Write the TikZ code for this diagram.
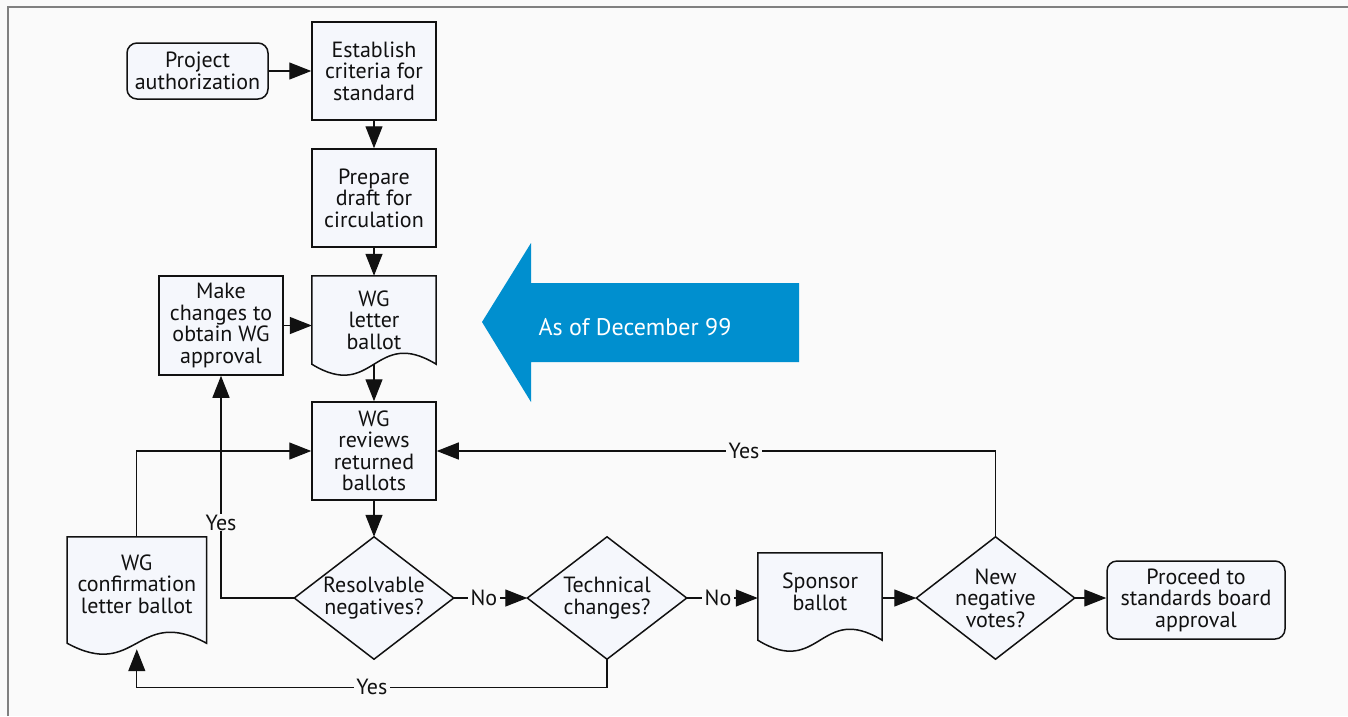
\documentclass[tikz,border=0pt]{standalone}
\usepackage{fontspec}
\setmainfont{PT Sans}
\usetikzlibrary{arrows.meta,calc}
\pgfdeclarelayer{page}
\pgfdeclarelayer{shapes}
\pgfsetlayers{page,shapes,main}
\definecolor{pagebg}{HTML}{FAFAFA}
\definecolor{boxfill}{HTML}{F5F7FC}
\definecolor{frame}{HTML}{808080}
\definecolor{banner}{HTML}{008FCF}
\definecolor{ink}{HTML}{111111}
\tikzset{
  txt/.style={font=\fontsize{22}{21.5}\selectfont, align=center, inner sep=0pt, text=ink},
  box/.style={txt, draw=ink, fill=boxfill, line width=1.5pt, minimum width=124pt, minimum height=98pt},
  rbox/.style={box, rounded corners=10pt},
  conn/.style={draw=ink, line width=1.3pt, -{Triangle[length=22pt,width=17pt]}},
  lbl/.style={txt, fill=pagebg, inner xsep=2.5pt, inner ysep=1pt},
  outline/.style={draw=ink, fill=boxfill, line width=1.5pt},
}
\newcommand{\docpath}[2]{%
  \draw[outline] ($(#1.north west)+(0,#2)$) -- ($(#1.north east)+(0,#2)$) -- ($(#1.south east)+(0,#2)$)
    .. controls ($(#1.south)+(0,#2-38)$) and ($(#1.south)+(0,#2+38)$) .. ($(#1.south west)+(0,#2)$) -- cycle;}
\newcommand{\diapath}[1]{%
  \draw[outline] (#1.north) -- (#1.east) -- (#1.south) -- (#1.west) -- cycle;}
\begin{document}
\begin{tikzpicture}[x=1pt,y=-1pt]
\useasboundingbox (0,0) rectangle (1348,716);
\begin{pgfonlayer}{page}
  \fill[pagebg] (0,0) rectangle (1348,716);
  \draw[frame, line width=2pt] (7.5,716) -- (7.5,6.7) -- (1348,6.7);
\end{pgfonlayer}

% nodes
\node[rbox, minimum width=141pt, minimum height=56pt] (proj) at (197.5,71) {Project\\authorization};
\node[box] (est) at (374,71) {Establish\\criteria for\\standard};
\node[box] (prep) at (374,198) {Prepare\\draft for\\circulation};
\node[txt, minimum width=124pt, minimum height=88pt] (wgl) at (374,320) {WG\\letter\\ballot};
\node[box, minimum height=99pt] (mk) at (221,325.5) {Make\\changes to\\obtain WG\\approval};
\node[box] (rev) at (374,451) {WG\\reviews\\returned\\ballots};
\node[txt, minimum width=159pt, minimum height=122pt] (res) at (374,598) {Resolvable\\negatives?};
\node[txt, minimum width=159pt, minimum height=122pt] (tech) at (607,598) {Technical\\changes?};
\node[txt, minimum width=139pt, minimum height=106pt] (cf) at (136.8,584) {WG\\confirmation\\letter ballot};
\node[txt, minimum width=124pt, minimum height=87pt] (spon) at (820,592) {Sponsor\\ballot};
\node[txt, minimum width=158pt, minimum height=122pt] (nn) at (995.5,598) {New\\negative\\votes?};
\node[rbox, minimum width=178pt, minimum height=78pt] (proc) at (1196,600) {Proceed to\\standards board\\approval};

% outlines of the special shapes
\begin{pgfonlayer}{shapes}
  \docpath{wgl}{0}
  \docpath{cf}{6}
  \docpath{spon}{4.5}
  \diapath{res}
  \diapath{tech}
  \diapath{nn}
  \fill[banner] (482,322) -- (531,243) -- (531,283) -- (799,283) -- (799,362) -- (531,362) -- (531,402) -- cycle;
\end{pgfonlayer}
\node[txt, text=white, font=\fontsize{24}{26}\selectfont] (asof) at (635,327) {As of December 99};

% connectors
\draw[conn] (proj) -- (est);
\draw[conn] (est) -- (prep);
\draw[conn] (prep) -- (wgl);
\draw[conn] (mk.east) -- (mk.east -| wgl.west);
\draw[conn] (wgl.south) -- (rev.north);
\draw[conn] (rev) -- (res.north);
\draw[conn] (res.east) -- node[lbl, pos=0.41] {No} (tech.west);
\draw[conn] (tech.east) -- node[lbl, pos=0.44] {No} (spon.west |- tech.east);
\draw[conn] (spon.east |- nn.west) -- (nn.west);
\draw[conn] (nn.east) -- (proc.west |- nn.east);
\draw[conn] (res.west) -| node[lbl, pos=0.67] {Yes} (mk.south);
\draw[conn] ($(cf.north)+(0,6)$) |- (rev.west);
\draw[conn] (nn.north) |- node[lbl, pos=0.725] {Yes} (rev.east);
\draw[conn] (tech.south) -- ++(0,28) coordinate (tb) -- node[lbl] {Yes} (tb -| cf.south) -- ($(cf.south)+(0,12)$);
\end{tikzpicture}
\end{document}
